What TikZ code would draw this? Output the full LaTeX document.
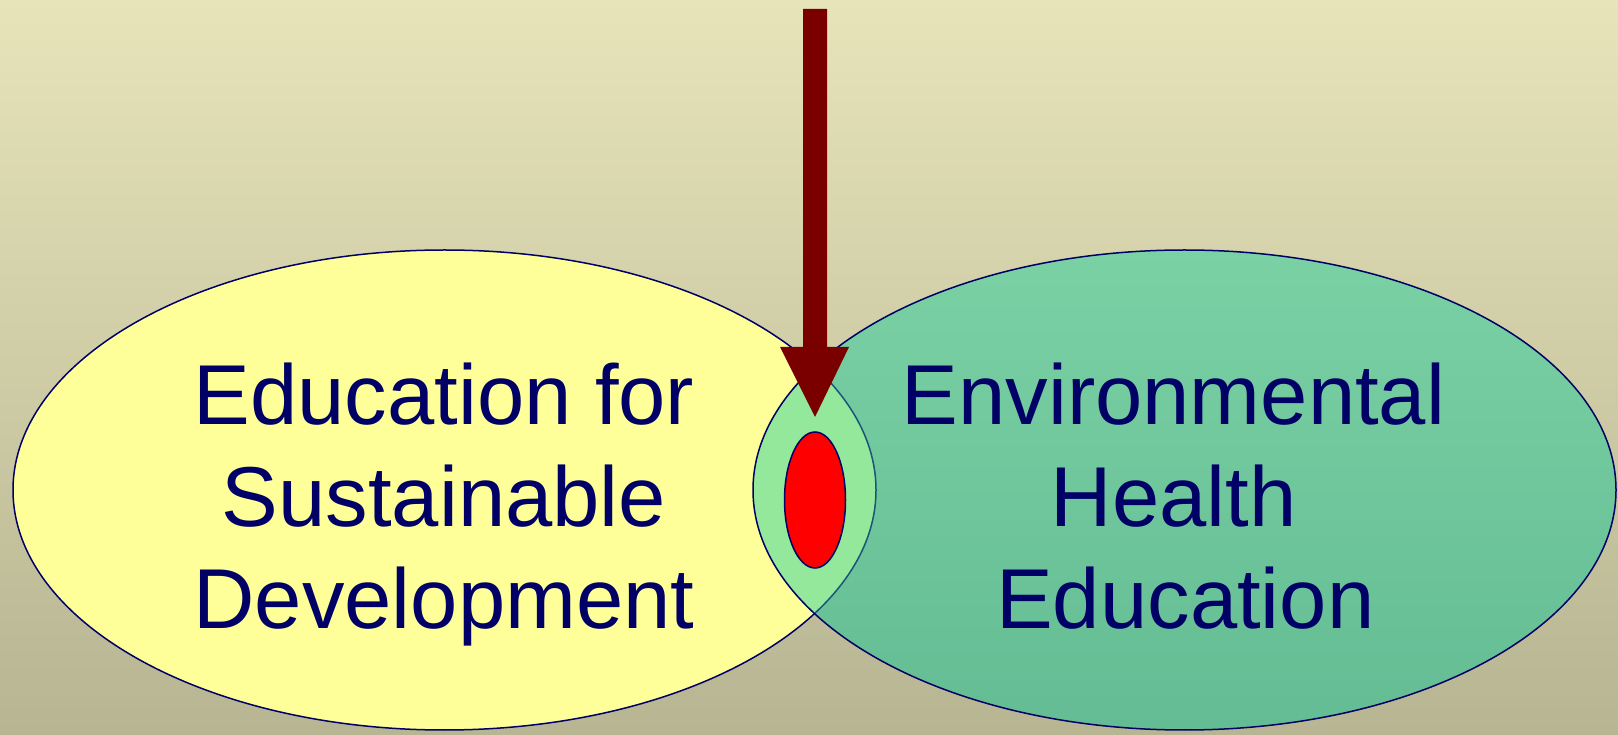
\documentclass[tikz,border=0pt]{standalone}
\usepackage{fontspec}
\setmainfont{Liberation Sans}
\definecolor{bgtop}{RGB}{231,228,186}
\definecolor{bgbot}{RGB}{183,181,146}
\definecolor{esdyellow}{RGB}{255,255,153}
\definecolor{ehetop}{RGB}{122,209,164}
\definecolor{ehebot}{RGB}{100,188,148}
\definecolor{lensgreen}{RGB}{147,232,155}
\definecolor{navytext}{RGB}{0,0,102}
\definecolor{arrowred}{RGB}{122,0,0}
\definecolor{arcteal}{RGB}{25,85,120}
\tikzset{
  outline/.style={draw=navytext, line width=1.5pt},
  bigtext/.style={text=navytext, align=center, anchor=base, inner sep=0pt,
    font=\fontsize{85}{102}\selectfont},
}
\begin{document}
\begin{tikzpicture}[x=1pt,y=1pt]
\useasboundingbox (0,0) rectangle (1618,734);
% background
\shade[top color=bgtop, bottom color=bgbot] (0,0) rectangle (1618,734);
% left ellipse
\path[fill=esdyellow, outline] (444.5,244) ellipse [x radius=431.5, y radius=240];
% right ellipse
\shade[top color=ehetop, bottom color=ehebot] (1184.5,244) ellipse [x radius=431.5, y radius=240];
% lens
\begin{scope}
  \clip (444.5,244) ellipse [x radius=431.5, y radius=240];
  \fill[lensgreen] (1184.5,244) ellipse [x radius=431.5, y radius=240];
\end{scope}
\begin{scope}
  \clip (1184.5,244) ellipse [x radius=432.5, y radius=241];
  \draw[arcteal, line width=1.5pt] (444.5,244) ellipse [x radius=431.5, y radius=240];
\end{scope}
\path[outline] (1184.5,244) ellipse [x radius=431.5, y radius=240];
% red core
\path[fill=red, outline] (815,234) ellipse [x radius=30.5, y radius=68];
% block arrow
\coordinate (tip) at (815,317);
\fill[arrowred] (803,725) -- (827,725) -- (827,387) -- (849,387) -- (tip) -- (780,387) -- (803,387) -- cycle;
% texts (anchor=base is the baseline of the last line)
\node[bigtext] (esd) at (444,105) {Education for\\Sustainable\\Development};
\node[bigtext] (ehe) at (1173.5,105) {Environmental\\Health\\\hspace*{0.278em}Education};
\end{tikzpicture}
\end{document}
